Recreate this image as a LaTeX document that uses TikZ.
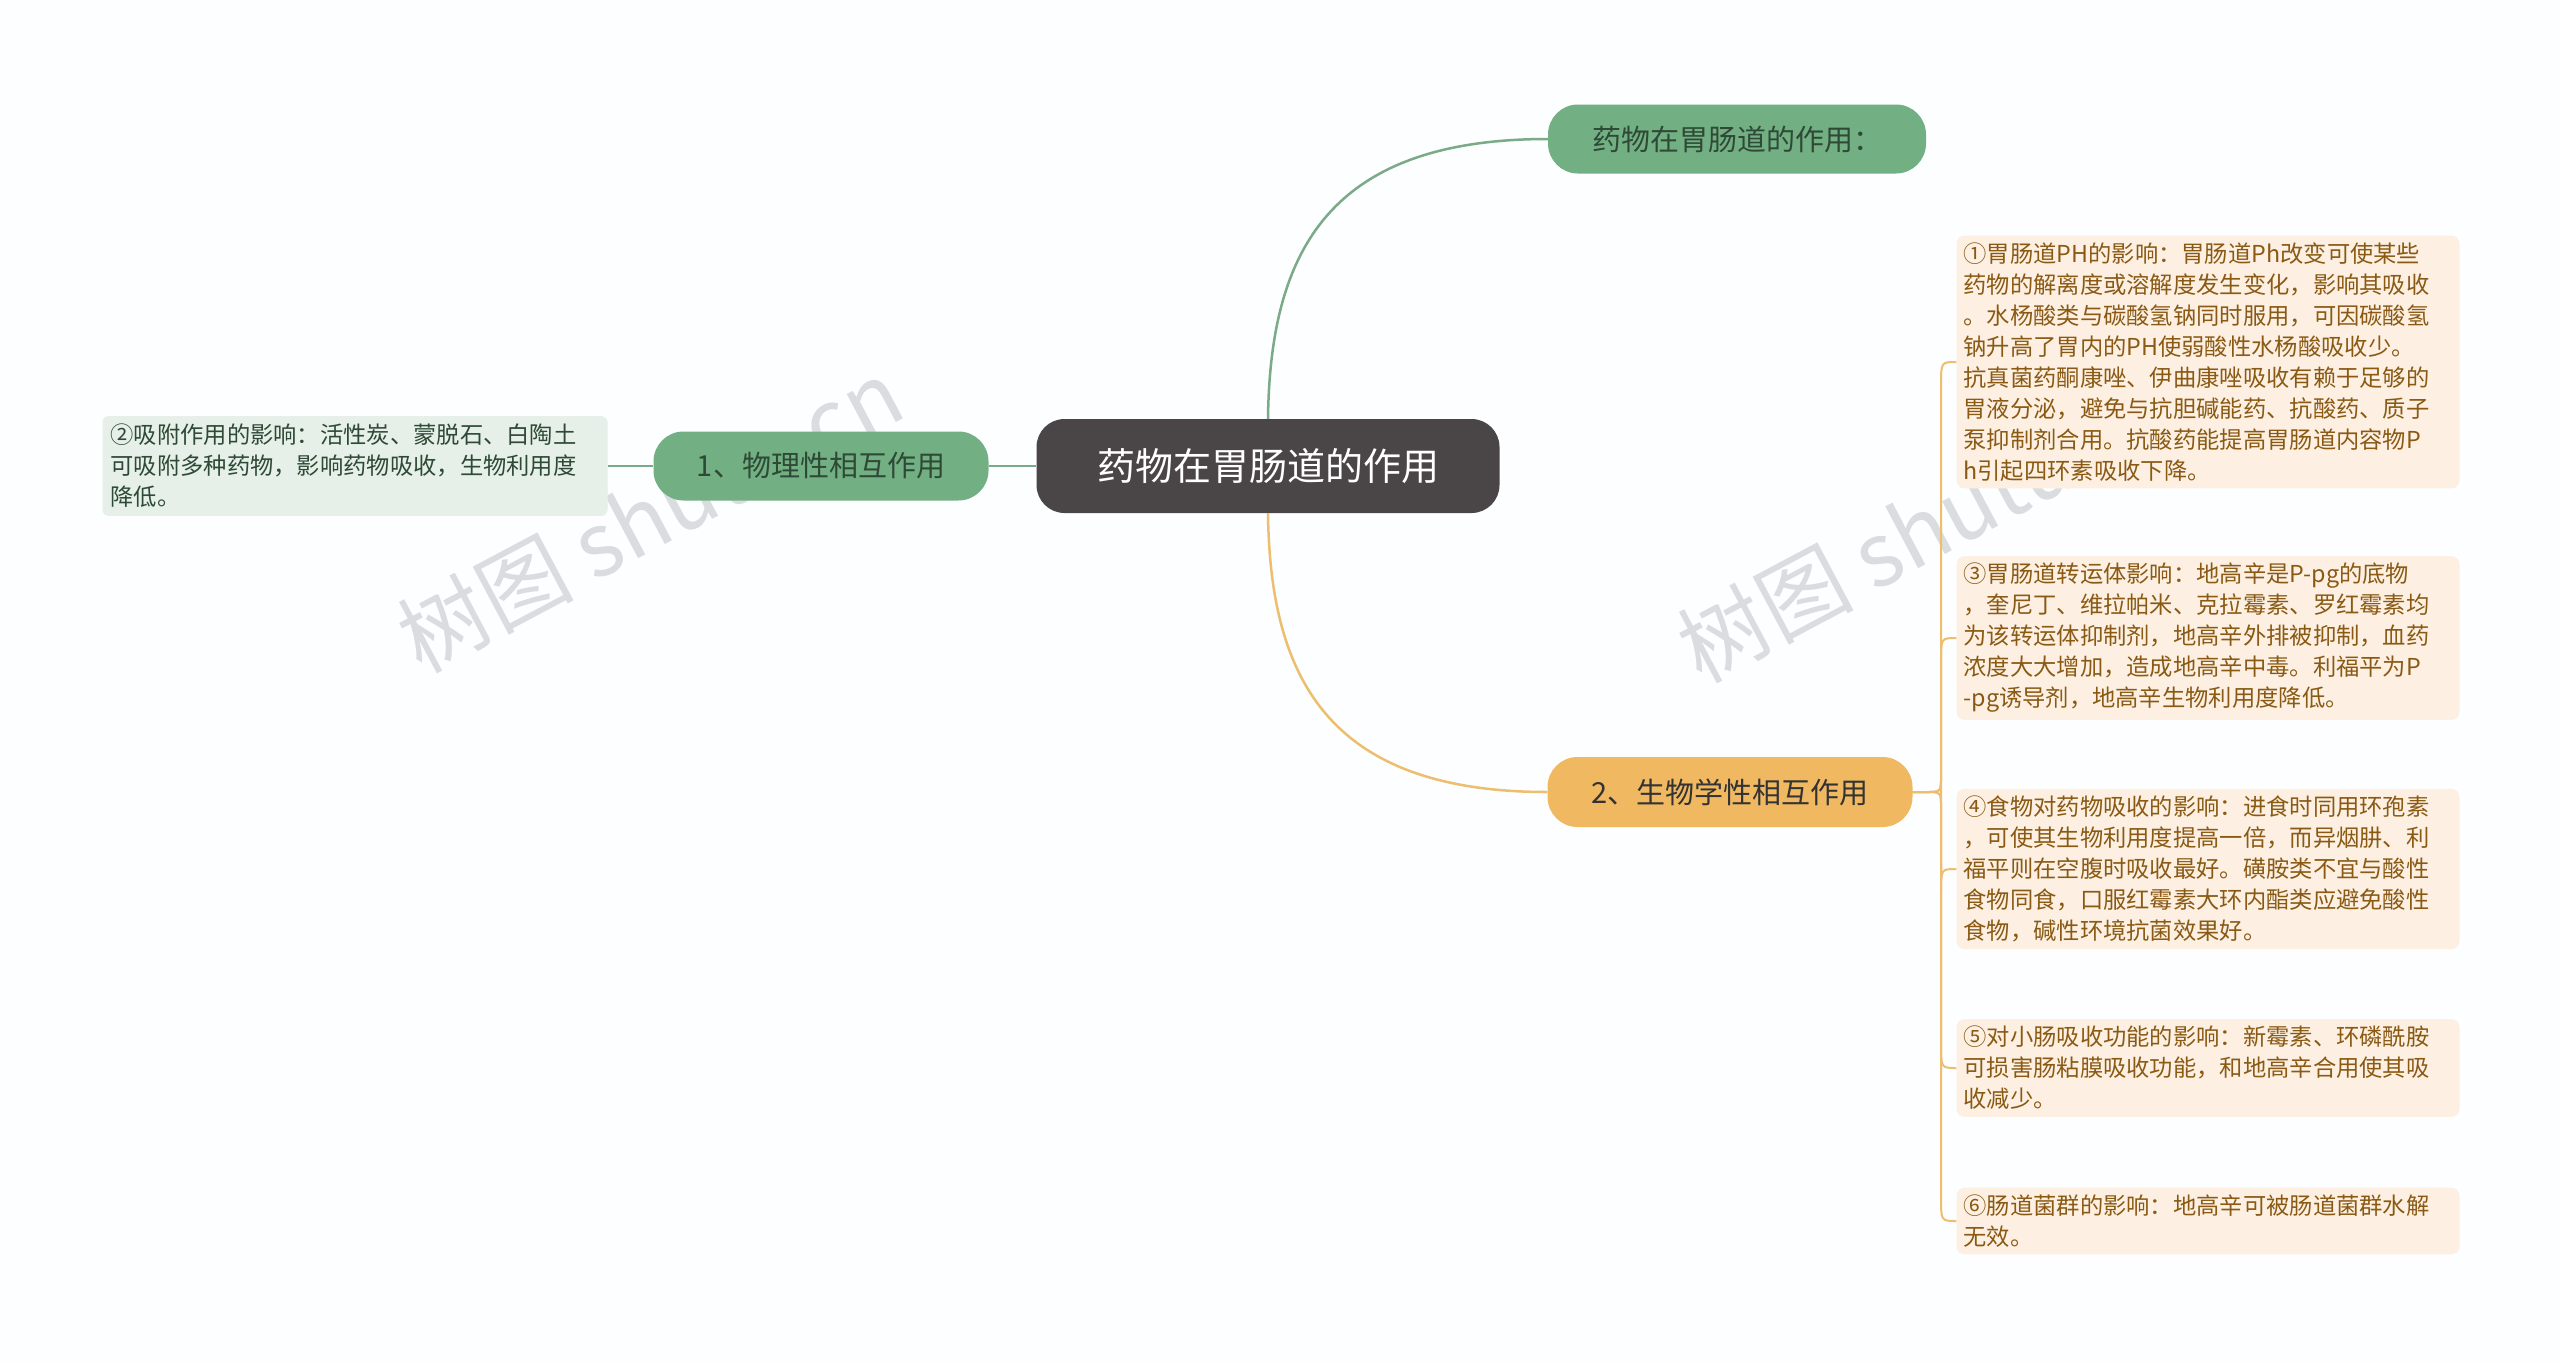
\documentclass[tikz,border=0pt]{standalone}
\usepackage{fontspec}
\setmainfont{Noto Sans CJK SC}
\newfontfamily\wmfont{Noto Sans CJK SC}
\definecolor{bg}{HTML}{FCFEFF}
\definecolor{dark}{HTML}{4A4546}
\definecolor{gr}{HTML}{72B083}
\definecolor{grline}{HTML}{7AAA86}
\definecolor{grleaf}{HTML}{E6F0E8}
\definecolor{grtext}{HTML}{2E4A36}
\definecolor{og}{HTML}{F0B961}
\definecolor{ogline}{HTML}{EDBE6E}
\definecolor{ogleaf}{HTML}{FDF0E2}
\definecolor{ogtext}{HTML}{8A5A14}
\definecolor{wm}{HTML}{DADDE0}
\begin{document}
\begin{tikzpicture}[x=1pt,y=-1pt,
  mainbox/.style={rounded corners=28pt,fill=dark,text=white,font=\fontsize{38}{46}\selectfont,minimum width=463pt,minimum height=94pt,inner sep=0pt},
  grbox/.style={rounded corners=30pt,fill=gr,text=grtext,font=\fontsize{29}{36}\selectfont,minimum height=69pt,inner sep=0pt},
  ogbox/.style={rounded corners=30pt,fill=og,text=black!80,font=\fontsize{29}{36}\selectfont,minimum height=70pt,inner sep=0pt},
  gleaf/.style={rounded corners=6pt,fill=grleaf,text=grtext,font=\fontsize{23.3}{31}\selectfont,align=left,minimum width=505pt,text width=489pt,inner sep=8pt},
  oleaf/.style={rounded corners=8pt,fill=ogleaf,text=ogtext,font=\fontsize{23.3}{31}\selectfont,align=left,minimum width=503pt,text width=489pt,inner sep=7pt},
  wmk/.style={text=wm,font=\wmfont\fontsize{88}{90}\selectfont,rotate=28}]
\fill[bg] (0,0) rectangle (2560,1363);
\useasboundingbox (0,0) rectangle (2560,1363);
\node[wmk] (w1) at (650,515) {树图 shutu.cn};
\node[wmk] (w2) at (1930,525) {树图 shutu.cn};

\node[mainbox] (c) at (1268,466) {药物在胃肠道的作用};
\node[grbox,minimum width=378pt] (t) at (1737,139) {药物在胃肠道的作用：};
\node[grbox,minimum width=335pt] (p) at (821,466) {1、物理性相互作用};
\node[ogbox,minimum width=365pt] (b) at (1730,792) {2、生物学性相互作用};
\node[gleaf] (l1) at (355,466) {②吸附作用的影响：活性炭、蒙脱石、白陶土\\可吸附多种药物，影响药物吸收，生物利用度\\降低。};

\node[oleaf] (r1) at (2208,362) {①胃肠道PH的影响：胃肠道Ph改变可使某些\\药物的解离度或溶解度发生变化，影响其吸收\\。水杨酸类与碳酸氢钠同时服用，可因碳酸氢\\钠升高了胃内的PH使弱酸性水杨酸吸收少。\\抗真菌药酮康唑、伊曲康唑吸收有赖于足够的\\胃液分泌，避免与抗胆碱能药、抗酸药、质子\\泵抑制剂合用。抗酸药能提高胃肠道内容物P\\h引起四环素吸收下降。};
\node[oleaf] (r3) at (2208,638) {③胃肠道转运体影响：地高辛是P-pg的底物\\，奎尼丁、维拉帕米、克拉霉素、罗红霉素均\\为该转运体抑制剂，地高辛外排被抑制，血药\\浓度大大增加，造成地高辛中毒。利福平为P\\-pg诱导剂，地高辛生物利用度降低。};
\node[oleaf] (r4) at (2208,869) {④食物对药物吸收的影响：进食时同用环孢素\\，可使其生物利用度提高一倍，而异烟肼、利\\福平则在空腹时吸收最好。磺胺类不宜与酸性\\食物同食，口服红霉素大环内酯类应避免酸性\\食物，碱性环境抗菌效果好。};
\node[oleaf] (r5) at (2208,1068) {⑤对小肠吸收功能的影响：新霉素、环磷酰胺\\可损害肠粘膜吸收功能，和地高辛合用使其吸\\收减少。};
\node[oleaf] (r6) at (2208,1221) {⑥肠道菌群的影响：地高辛可被肠道菌群水解\\无效。};

\draw[grline,line width=2.5pt] (c.north) .. controls (1270,250) and (1330,139) .. (t.west);
\draw[ogline,line width=2.5pt] (c.south) .. controls (1270,680) and (1330,792) .. (b.west);
\draw[grline,line width=2.5pt] (c.west) -- (p.east);
\draw[grline,line width=2.5pt] (p.west) -- (l1.east);
\foreach \n/\y/\s in {r1/362/1,r3/638/1,r4/869/1,r5/1068/-1,r6/1221/-1}{
  \draw[ogline,line width=2pt] (b.east) -- (1926,792) .. controls (1941,792) .. (1941,{792-\s*15})
    -- (1941,{\y+\s*24}) .. controls (1941,\y) .. (\n.west);
}
\end{tikzpicture}
\end{document}
